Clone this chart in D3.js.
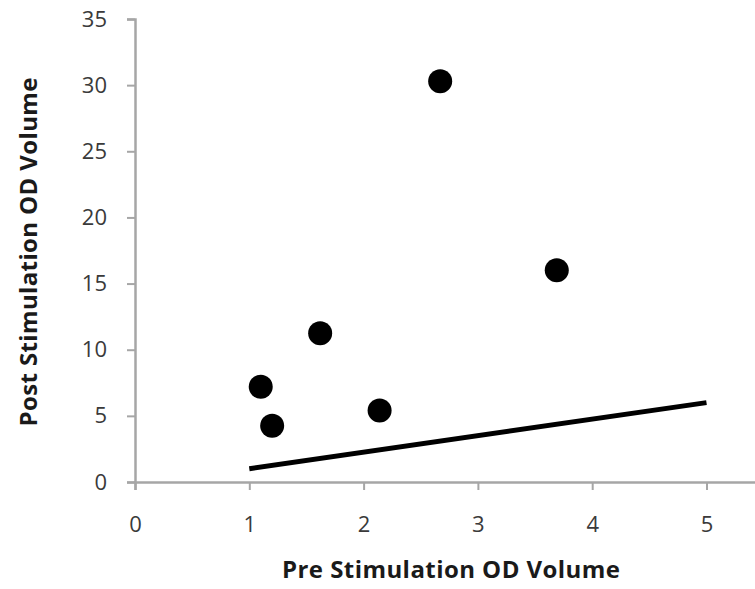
<!DOCTYPE html>
<html>
<head>
<meta charset="utf-8">
<script src="https://cdn.jsdelivr.net/npm/d3@7/dist/d3.min.js"></script>
<style>
  html, body { margin: 0; padding: 0; background: #fff; }
  svg { display: block; }
</style>
</head>
<body>
<script>
// ---- data ----
const preVolume  = [1.10, 1.20, 1.62, 2.14, 2.67, 3.69];
const postVolume = [7.2, 4.25, 11.25, 5.4, 30.3, 16.0];
const refLineX = [1, 5];
const refLineY = [1, 6];
const xTicks = [0, 1, 2, 3, 4, 5];
const yTicks = [0, 5, 10, 15, 20, 25, 30, 35];
const xTitle = "Pre Stimulation OD Volume";
const yTitle = "Post Stimulation OD Volume";

const W = 755, H = 589;
const svg = d3.select("body").append("svg").attr("width", W).attr("height", H);

const x = d3.scaleLinear().domain([0, 6]).range([135, 135 + 6 * 114.3]);
const y = d3.scaleLinear().domain([0, 35]).range([482, 19]);

const axisColor = "#a6a6a6";
const textColor = "#3a3a3a";
const font = "'Open Sans', Lato, sans-serif";

// x axis
const gx = svg.append("g").attr("transform", `translate(0,${y(0)})`)
  .call(d3.axisBottom(x).tickValues(xTicks).tickSize(8).tickPadding(26).tickFormat(d3.format("d")));
gx.select(".domain").attr("stroke", axisColor).attr("stroke-width", 2.5);
gx.selectAll(".tick line").attr("stroke", axisColor).attr("stroke-width", 2);
gx.selectAll(".tick text").attr("fill", textColor).style("font-family", font).style("font-size", "22px");

// y axis
const gy = svg.append("g").attr("transform", `translate(${x(0)},0)`)
  .call(d3.axisLeft(y).tickValues(yTicks).tickSize(8).tickPadding(20).tickFormat(d3.format("d")));
gy.select(".domain").attr("stroke", axisColor).attr("stroke-width", 2.5);
gy.selectAll(".tick line").attr("stroke", axisColor).attr("stroke-width", 2);
gy.selectAll(".tick text").attr("fill", textColor).style("font-family", font).style("font-size", "22px");

// reference line
const line = d3.line().x(d => x(d[0])).y(d => y(d[1]));
svg.append("path")
  .datum(refLineX.map((v, i) => [v, refLineY[i]]))
  .attr("d", line)
  .attr("fill", "none")
  .attr("stroke", "#000")
  .attr("stroke-width", 5);

// points
svg.append("g").selectAll("circle")
  .data(preVolume.map((v, i) => [v, postVolume[i]]))
  .join("circle")
  .attr("cx", d => x(d[0]))
  .attr("cy", d => y(d[1]))
  .attr("r", 12)
  .attr("fill", "#000");

// titles
svg.append("text")
  .attr("x", 451).attr("y", 578)
  .attr("text-anchor", "middle")
  .attr("fill", "#1a1a1a")
  .attr("textLength", 338).attr("lengthAdjust", "spacing")
  .style("font-family", font).style("font-weight", "bold").style("font-size", "24px")
  .text(xTitle);

svg.append("text")
  .attr("transform", "translate(37,252) rotate(-90)")
  .attr("text-anchor", "middle")
  .attr("fill", "#1a1a1a")
  .attr("textLength", 349).attr("lengthAdjust", "spacing")
  .style("font-family", font).style("font-weight", "bold").style("font-size", "24px")
  .text(yTitle);
</script>
</body>
</html>
